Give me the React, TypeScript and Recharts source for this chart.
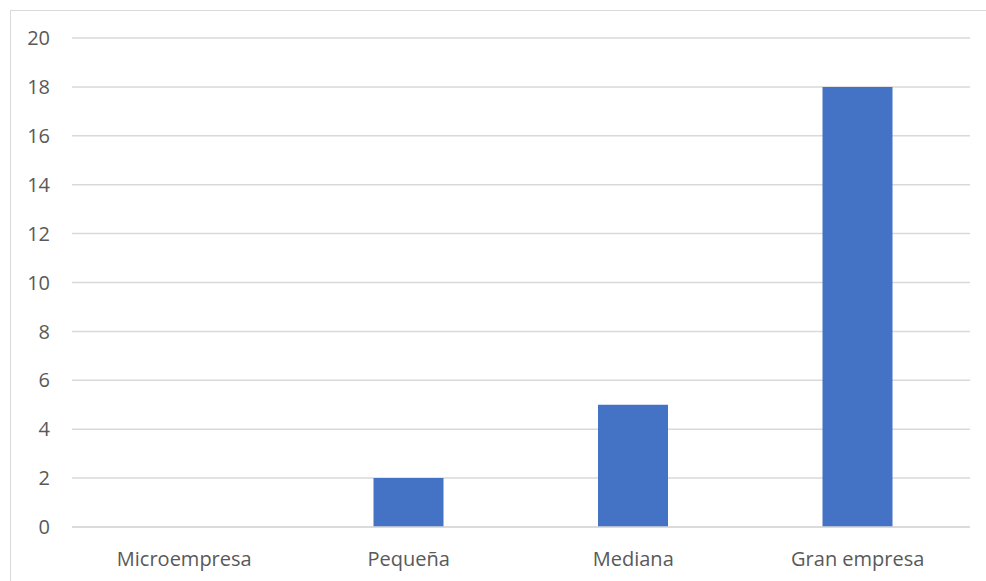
import { BarChart, Bar, XAxis, YAxis, CartesianGrid } from 'recharts';

const categories = ['Microempresa', 'Pequeña', 'Mediana', 'Gran empresa'];
const counts = [0, 2, 5, 18];
const yTicks = [0, 2, 4, 6, 8, 10, 12, 14, 16, 18, 20];

const data = categories.map((name, i) => ({ name, value: counts[i] }));

const axisText = { fill: '#595959', fontSize: 20, fontFamily: '"Open Sans", sans-serif' };

export default function App() {
  return (
    <div
      style={{
        position: 'absolute',
        left: 10,
        top: 10,
        width: 976,
        height: 571,
        boxSizing: 'border-box',
        borderLeft: '1px solid #d9d9d9',
        borderTop: '1px solid #d9d9d9',
        background: '#fff'
      }}
    >
      <BarChart
        width={975}
        height={570}
        data={data}
        margin={{ top: 27, right: 16, left: 0, bottom: 24 }}
      >
        <CartesianGrid vertical={false} stroke="#d9d9d9" strokeWidth={1.5} />
        <XAxis
          dataKey="name"
          height={30}
          tickLine={false}
          tickSize={0}
          tickMargin={25}
          axisLine={{ stroke: '#d9d9d9', strokeWidth: 1.5 }}
          tick={axisText}
        />
        <YAxis
          width={61}
          domain={[0, 20]}
          ticks={yTicks}
          axisLine={false}
          tickLine={false}
          tickSize={0}
          tickMargin={22}
          tick={axisText}
        />
        <Bar dataKey="value" fill="#4472c4" barSize={70} isAnimationActive={false} />
      </BarChart>
    </div>
  );
}
